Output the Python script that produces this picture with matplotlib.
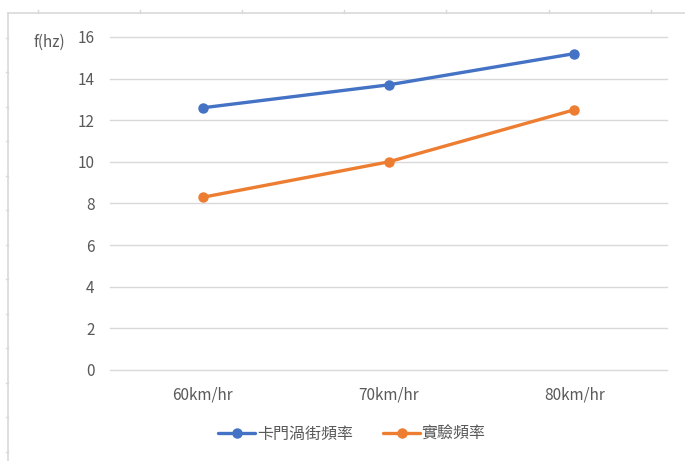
import numpy as np
import matplotlib
matplotlib.use("Agg")
import matplotlib.pyplot as plt
from matplotlib.lines import Line2D

plt.rcParams['font.family'] = ['Liberation Sans Narrow', 'Noto Sans CJK TC', 'DejaVu Sans']

speeds = ['60km/hr', '70km/hr', '80km/hr']
karman_freq = [12.6, 13.7, 15.2]
test_freq = [8.3, 10.0, 12.5]
series_names = ['卡門渦街頻率', '實驗頻率']
y_ticks = [0, 2, 4, 6, 8, 10, 12, 14, 16]

W, H = 685, 461
fig = plt.figure(figsize=(W / 100, H / 100), dpi=100)
fig.patch.set_facecolor('white')

# spreadsheet frame and cell ticks behind the chart
frame_c = '#d9d9d9'
fig.add_artist(Line2D([8 / W, 1], [1 - 13.5 / H] * 2, color=frame_c, lw=1.2))
fig.add_artist(Line2D([8 / W] * 2, [0, 1 - 13.5 / H], color=frame_c, lw=1.2))
for x in np.arange(38, W, 102.1):
    fig.add_artist(Line2D([x / W] * 2, [1 - 10 / H, 1 - 13.5 / H], color=frame_c, lw=1))
for y in np.arange(37.7, H, 34.5):
    fig.add_artist(Line2D([5.5 / W, 8 / W], [1 - y / H] * 2, color=frame_c, lw=1))

ax = fig.add_axes([110 / W, 1 - 370 / H, 557 / W, 333 / H])
x = np.arange(len(speeds))
ax.plot(x, karman_freq, color='#4472C4', lw=2.4, marker='o', ms=6.5,
        solid_capstyle='round', label=series_names[0])
ax.plot(x, test_freq, color='#ED7D31', lw=2.4, marker='o', ms=6.5,
        solid_capstyle='round', label=series_names[1])

ax.set_xlim(-0.5, 2.5)
ax.set_ylim(0, 16)
ax.set_yticks(y_ticks)
ax.set_xticks(x)
ax.set_xticklabels(speeds)
ax.grid(axis='y', color='#d9d9d9', lw=1)
for gl in ax.get_ygridlines():
    gl.set_clip_on(False)
ax.set_axisbelow(True)
for s in ax.spines.values():
    s.set_visible(False)
ax.tick_params(length=0, colors='#595959', labelsize=11)
ax.tick_params(axis='y', pad=11)
ax.tick_params(axis='x', pad=12)

fig.text(33 / W, 1 - 42 / H, 'f(hz)', color='#595959', fontsize=11, va='center', ha='left')

fig.legend(*ax.get_legend_handles_labels(), loc='center',
           bbox_to_anchor=(352 / W, 1 - 434 / H), ncol=2, frameon=False,
           labelcolor='#595959', handlelength=2.3, handletextpad=0.1,
           columnspacing=1.9, prop={'family': ['Noto Sans CJK TC', 'DejaVu Sans'], 'size': 11.5})

fig.savefig('out.png', dpi=100)
